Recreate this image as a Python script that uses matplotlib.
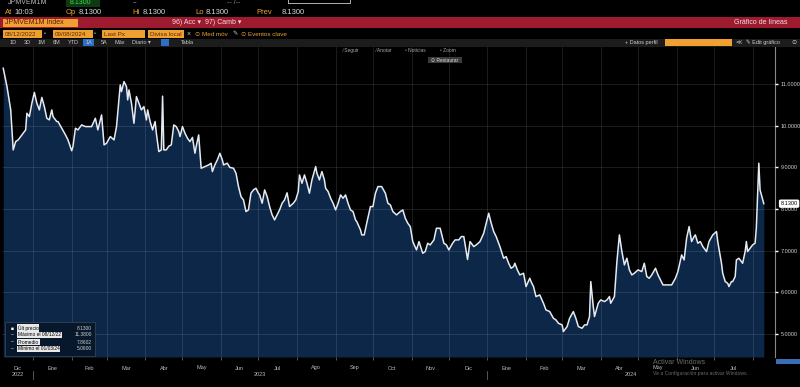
import pandas as pd
import matplotlib.pyplot as plt
import matplotlib.dates as mdates
from matplotlib.patches import Rectangle

plt.rcParams['font.family'] = ['Liberation Sans', 'DejaVu Sans']

# days counted from 2022-12-01
dias = [7, 10, 13, 15, 17, 19, 22, 25, 26, 28, 30, 32, 34, 36, 38, 40, 42, 44, 46, 47,
        50, 51, 54, 57, 59, 62, 63, 65, 67, 70, 73, 75, 78, 81, 83, 86, 88, 90, 93, 96,
        98, 101, 102, 104, 106, 107, 108, 110, 112, 114, 116, 118, 120, 122, 123, 125, 127, 129, 130, 132,
        134, 135, 136, 138, 140, 142, 144, 146, 148, 149, 151, 153, 155, 157, 159, 161, 162, 164, 166, 169,
        172, 174, 175, 177, 179, 181, 183, 184, 187, 189, 192, 194, 196, 198, 200, 202, 204, 206, 208, 210,
        212, 213, 215, 217, 219, 221, 223, 225, 227, 229, 231, 233, 235, 237, 240, 242, 244, 245, 247, 249,
        251, 253, 255, 258, 259, 261, 263, 265, 266, 268, 270, 272, 274, 276, 278, 280, 282, 284, 286, 288,
        290, 291, 294, 295, 297, 299, 302, 304, 306, 308, 311, 314, 316, 318, 320, 323,
        326, 328, 330, 332, 334, 336, 339, 341, 344, 346, 348, 350, 353, 355, 358, 361, 363, 365, 368, 370,
        373, 375, 377, 380, 382, 385, 387, 390, 393, 397, 399, 401, 403, 406, 409, 411, 413, 415, 417, 418,
        420, 422, 425, 427, 430, 431, 433, 435, 438, 441, 443, 446, 449, 451, 453, 456, 457, 460, 462, 465,
        467, 469, 472, 474, 476, 478, 479, 481, 482, 485, 487, 490, 492, 494, 495, 498, 500, 502, 504, 506,
        508, 510, 512, 514, 517, 520, 522, 524, 526, 528, 531, 533, 535, 537, 539, 541, 544, 547, 549, 552,
        554, 556, 558, 560, 562, 563, 565, 567, 569, 572, 574, 577, 580, 581, 584, 585, 587, 589, 590, 592,
        593, 595, 596, 598, 601, 603, 604, 605, 608, 609, 611, 612, 614, 615, 618]
valores = [11.38, 10.94, 10.38, 9.42, 9.62, 9.66, 9.78, 9.90, 10.30, 10.22, 10.54, 10.80, 10.54, 10.38, 10.68, 10.46, 10.18, 10.14, 10.38, 10.22,
           10.10, 10.10, 9.94, 9.78, 9.66, 9.40, 9.50, 9.94, 9.90, 10.02, 9.98, 9.98, 9.98, 10.18, 9.90, 10.26, 9.54, 9.58, 9.74, 9.66,
           9.98, 10.98, 10.82, 11.06, 10.94, 10.62, 10.86, 10.54, 10.06, 10.70, 10.54, 10.38, 10.46, 10.14, 10.38, 10.10, 9.90, 10.10, 9.82, 9.38,
           9.42, 10.71, 9.42, 9.42, 9.51, 9.54, 10.02, 9.98, 9.86, 9.74, 9.98, 9.82, 9.70, 9.62, 9.72, 9.34, 9.50, 9.78, 8.98, 9.02,
           9.06, 9.10, 8.90, 9.06, 9.18, 9.34, 9.18, 9.06, 9.10, 9.00, 8.98, 8.86, 8.54, 8.30, 8.22, 7.94, 7.98, 8.38, 8.46, 8.50,
           8.38, 8.34, 8.14, 8.46, 8.30, 8.06, 7.86, 7.74, 7.86, 7.98, 8.14, 8.22, 8.39, 8.06, 8.14, 8.22, 8.42, 8.82, 8.62, 8.82,
           8.62, 8.38, 8.70, 9.02, 8.86, 8.70, 8.90, 8.70, 8.50, 8.42, 8.26, 8.14, 7.98, 8.14, 8.34, 8.26, 8.34, 8.14, 7.98, 7.94,
           7.74, 7.70, 7.50, 7.38, 7.38, 7.66, 8.06, 8.06, 8.38, 8.54, 8.54, 8.38, 8.14, 8.10, 7.94, 7.86,
           7.94, 7.98, 7.78, 7.66, 7.58, 7.22, 7.02, 7.22, 6.94, 6.98, 7.18, 7.14, 7.26, 7.54, 7.54, 7.18, 7.14, 7.02, 7.18, 7.26,
           7.26, 7.34, 7.34, 6.79, 7.22, 7.10, 7.14, 7.22, 7.42, 7.90, 7.66, 7.46, 7.34, 7.10, 6.82, 6.86, 6.70, 6.58, 6.62, 6.70,
           6.54, 6.42, 6.46, 6.14, 6.34, 6.26, 6.14, 5.90, 5.94, 5.74, 5.58, 5.54, 5.38, 5.34, 5.26, 5.22, 5.06, 5.18, 5.38, 5.54,
           5.38, 5.18, 5.14, 5.22, 5.22, 5.42, 6.26, 5.66, 5.42, 5.74, 5.82, 5.78, 5.82, 5.90, 5.74, 5.90, 6.74, 7.38, 6.98, 6.66,
           6.82, 6.54, 6.42, 6.46, 6.54, 6.50, 6.70, 6.38, 6.34, 6.42, 6.58, 6.42, 6.30, 6.18, 6.18, 6.18, 6.18, 6.34, 6.50, 6.90,
           6.78, 7.30, 7.58, 7.22, 7.34, 7.38, 7.18, 7.22, 7.10, 6.98, 7.22, 7.38, 7.46, 7.22, 6.70, 6.46, 6.26, 6.22, 6.14, 6.26,
           6.26, 6.38, 6.78, 6.82, 6.70, 6.98, 7.22, 6.98, 7.10, 7.14, 7.18, 7.54, 9.10, 8.46, 8.13]

meses = ['Dic', 'Ene', 'Feb', 'Mar', 'Abr', 'May', 'Jun', 'Jul', 'Ago', 'Sep', 'Oct', 'Nov',
         'Dic', 'Ene', 'Feb', 'Mar', 'Abr', 'May', 'Jun', 'Jul']
anios = ['2022', '2023', '2024']
y_ticks = [5, 6, 7, 8, 9, 10, 11]

leyenda = ['Últ precio', 'Máximo el 08/12/22', 'Promedio', 'Mínimo el 01/03/24']
leyenda_val = ['8.1300', '11.3800', '7.8602', '5.0600']

W, H = 800, 387
ORANGE = '#f0a030'
RED = '#9e1a2e'
FILL = '#0c2748'

inicio = pd.Timestamp('2022-12-01')
fechas = inicio + pd.to_timedelta(dias, unit='D')
x0 = inicio + pd.Timedelta(days=6)
x1 = inicio + pd.Timedelta(days=627)

fig = plt.figure(figsize=(8, 3.87), dpi=100, facecolor='black')


def T(x, y, s, **kw):
    kw.setdefault('color', '#d8d8d8')
    kw.setdefault('fontsize', 5)
    kw.setdefault('va', 'center')
    return fig.text(x / W, 1 - y / H, s, **kw)


def R(xa, ya, xb, yb, color, **kw):
    fig.patches.append(Rectangle((xa / W, 1 - yb / H), (xb - xa) / W, (yb - ya) / H,
                                 transform=fig.transFigure, facecolor=color, **kw))


# ---- header rows
T(8, 3, 'JPMVEM1M', color='#bbbbbb')
R(66, 0, 100, 7, '#0d3a12', edgecolor='none')
T(70, 3, '8.1300', color='#3ddc4a')
T(133, 3, '--', color='#888888')
T(227, 3, '-- /--', color='#888888')
R(288, -2, 350, 3, 'none', edgecolor='#cccccc', linewidth=0.6)

for xl, lab, xv in [(5, 'At', 14), (66, 'Op', 79), (132, 'Hi', 143), (195, 'Lo', 206), (256, 'Prev', 282)]:
    T(xl, 12, lab, color=ORANGE, fontsize=5.5)
    T(xv, 12, '10:03' if lab == 'At' else '8.1300', fontsize=5.5)

R(0, 17.5, W, 27.5, RED, edgecolor='none')
R(3, 18.5, 78, 26.5, ORANGE, edgecolor='none')
T(5, 22.5, 'JPMVEM1M Index', color='#5a1a10', fontsize=5)
T(172, 22.5, '96) Acc ▾', color='#f0e0e0', fontsize=5)
T(205, 22.5, '97) Camb ▾', color='#f0e0e0', fontsize=5)
T(788, 22.5, 'Gráfico de líneas', color='#f0e0e0', fontsize=5, ha='right')

for xa, xb, lab in [(3, 42, '08/12/2022'), (53, 93, '09/08/2024'), (102, 145, 'Last Px'), (148, 184, 'Divisa local')]:
    R(xa, 30, xb, 38, ORANGE, edgecolor='none')
    T(xa + 2, 34, lab, color='#5a2a00', fontsize=4.5)
T(44, 34, '▪', color='#999999', fontsize=4)
T(94, 34, '▪', color='#999999', fontsize=4)
T(187, 34, '×', color='#cccccc', fontsize=5)
T(195, 34, '⊙ Med móv', color=ORANGE, fontsize=4.5)
T(232, 34, '✎', color='#cccccc', fontsize=4.5)
T(241, 34, '⊙ Eventos clave', color=ORANGE, fontsize=4.5)

R(0, 38.5, W, 46.5, '#1c1c1c', edgecolor='none')
for xt, lab in [(10, '1D'), (24, '3D'), (38, '1M'), (53, '6M'), (68, 'YTD'), (86, '1A'), (101, '5A'),
                (115, 'Máx'), (132, 'Diario ▾'), (181, 'Tabla')]:
    if lab == '1A':
        R(83, 39.5, 94, 45.5, '#2a6fc9', edgecolor='none')
    T(xt, 42.5, lab, color='#c8c8c8', fontsize=4)
R(161, 39.5, 169, 45.5, '#2a6fc9', edgecolor='none')
T(625, 42.5, '+ Datos perfil', color='#d0d0d0', fontsize=4)
R(665, 39.5, 732, 45.5, ORANGE, edgecolor='none')
T(736, 42.5, '≪', color='#cccccc', fontsize=4.5)
T(746, 42.5, '✎ Edit gráfico', color='#d0d0d0', fontsize=4)
T(791, 42.5, '⊙', color='#d0d0d0', fontsize=4.5)

# ---- main chart
ax = fig.add_axes([2 / W, 1 - 357 / H, 773 / W, 310 / H])
ax.set_facecolor('black')
ax.set_xlim(x0, x1)
ax.set_ylim(4.45, 11.89)
ax.fill_between(fechas, valores, 4.45, color=FILL, linewidth=0, zorder=1)
ax.plot(fechas, valores, color='#e6ebf2', linewidth=1.1, zorder=3)

ax.xaxis.set_major_locator(mdates.MonthLocator())
ax.set_yticks(y_ticks)
ax.grid(True, color='white', alpha=0.13, linewidth=0.6, zorder=2)
ax.set_axisbelow(False)
ax.tick_params(axis='x', labelbottom=False, length=2, color='#777777', width=0.5)
ax.yaxis.tick_right()
ax.tick_params(axis='y', length=2, width=1, color='white', labelsize=4, labelcolor='#cfcfcf', pad=2)
ax.set_yticklabels(['%.4f' % v for v in y_ticks])
for s in ['top', 'left', 'bottom']:
    ax.spines[s].set_visible(False)
ax.spines['right'].set_color('#888888')
ax.spines['right'].set_linewidth(0.8)

# month and year labels
limites = pd.date_range('2022-12-01', '2024-08-01', freq='MS')
tx = ax.get_xaxis_transform()
for i, lab in enumerate(meses):
    a = max(limites[i], x0)
    b = min(limites[i + 1], x1)
    ax.text(a + (b - a) / 2, -11 / 310, lab, transform=tx, ha='center', va='center',
            fontsize=4, color='#bbbbbb', clip_on=False)
inicios = [x0, pd.Timestamp('2023-01-01'), pd.Timestamp('2024-01-01'), x1]
for i, lab in enumerate(anios):
    a, b = inicios[i], inicios[i + 1]
    ax.text(a + (b - a) / 2, -17 / 310, lab, transform=tx, ha='center', va='center',
            fontsize=4, color='#bbbbbb', clip_on=False)
for d in inicios[1:3]:
    ax.plot([d, d], [-14 / 310, -22 / 310], transform=tx, color='#777777', linewidth=0.5, clip_on=False)

# last price tag
ax.annotate(valores[-1] and '%.4f' % valores[-1], xy=(1.0, valores[-1]), xycoords=('axes fraction', 'data'),
            xytext=(4, 0), textcoords='offset points', fontsize=4, color='black', va='center',
            bbox=dict(boxstyle='round,pad=0.3', facecolor='white', edgecolor='none'), annotation_clip=False)
R(776, 359, 800, 364, '#3b6db5', edgecolor='none')

# chart toolbar
for xt, lab in [(343, '⁄ Seguir'), (376, '⁄ Anotar'), (405, '▫ Noticias'), (440, '▫ Zoom')]:
    T(xt, 50.5, lab, color='#aaaaaa', fontsize=3.5)
R(428, 57, 462, 63, '#3a3a3a', edgecolor='none')
T(431, 60, '⊙ Restaurar', color='#dddddd', fontsize=3.5)

# stats box
R(5, 322, 95, 356, '#08182c', edgecolor='#3a4a5c', linewidth=0.5)
for i, (lab, val) in enumerate(zip(leyenda, leyenda_val)):
    yy = 328 + i * 7
    T(11, yy, '■' if i == 0 else '–', color='white', fontsize=3.5)
    T(18, yy, lab, color='black', fontsize=3.5,
      bbox=dict(facecolor='#e8e8e8', edgecolor='none', pad=0.4))
    T(92, yy, val, color='#cfcfcf', fontsize=3.5, ha='right')

# windows watermark
T(653, 362, 'Activar Windows', color='#9a9a9a', fontsize=5, alpha=0.7)
T(653, 374, 'Ve a Configuración para activar Windows.', color='#9a9a9a', fontsize=3.6, alpha=0.7)

fig.savefig('out.png', dpi=100, facecolor='black')
